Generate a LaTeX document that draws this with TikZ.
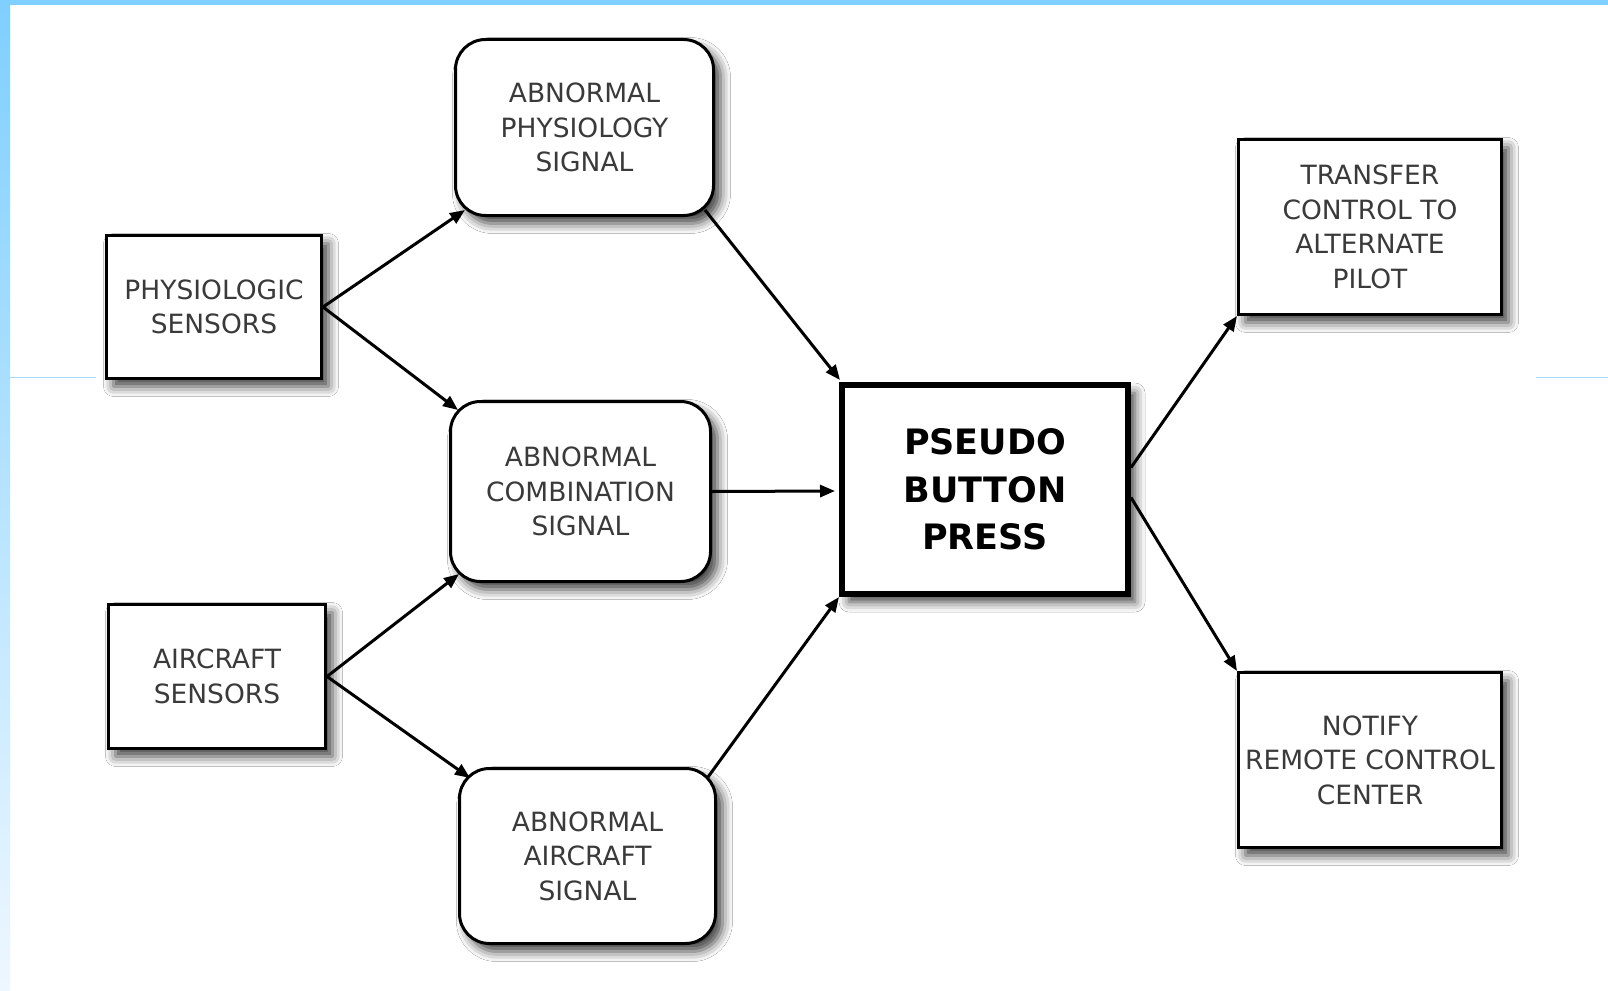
\documentclass[tikz,border=0pt]{standalone}
\usepackage{fontspec}
\setmainfont{DejaVu Sans}
\usetikzlibrary{arrows.meta,shadows.blur,calc}
\definecolor{barblue}{HTML}{7FCFFF}
\definecolor{barpale}{HTML}{EEF7FF}
\definecolor{lineblue}{HTML}{A6DBFF}
\definecolor{textgray}{HTML}{3A3A3A}
\begin{document}
\begin{tikzpicture}[x=1pt,y=-1pt,
  softshadow/.style={blur shadow={shadow xshift=7pt,shadow yshift=-8pt,shadow blur radius=10pt,shadow opacity=75}},
  plainbox/.style={draw=black,line width=3pt,fill=white,softshadow,align=center,text=textgray,
    font=\fontsize{26.5}{34.5}\selectfont,inner sep=0pt},
  roundbox/.style={plainbox,rounded corners=30pt},
  mainbox/.style={draw=black,line width=6pt,fill=white,softshadow,align=center,text=black,
    font=\fontsize{35}{47.5}\selectfont\bfseries,inner sep=0pt},
  arr/.style={-{Triangle[length=15pt,width=12pt]},line width=3pt,black}
]
% page frame
\useasboundingbox (0,0) rectangle (1608,990);
\fill[white] (0,0) rectangle (1608,990);
\fill[barblue] (0,0) rectangle (1608,5);
\shade[top color=barblue,bottom color=barpale] (0,0) rectangle (10,990);
\draw[lineblue,line width=1pt] (10,377) -- (96,377);
\draw[lineblue,line width=1pt] (1536,377) -- (1608,377);

% sensors
\node[plainbox,minimum width=215pt,minimum height=143pt] (phys) at (214,307) {PHYSIOLOGIC\\SENSORS};
\node[plainbox,minimum width=217pt,minimum height=144pt] (air) at (217,676.5) {AIRCRAFT\\SENSORS};

% signals
\node[roundbox,minimum width=258pt,minimum height=176pt] (aphys) at (584.5,127.5) {ABNORMAL\\PHYSIOLOGY\\SIGNAL};
\node[roundbox,minimum width=260pt,minimum height=180pt] (acomb) at (580.5,491.5) {ABNORMAL\\COMBINATION\\SIGNAL};
\node[roundbox,minimum width=256pt,minimum height=175pt] (aair) at (587.5,856) {ABNORMAL\\AIRCRAFT\\SIGNAL};

% central action
\node[mainbox,minimum width=286pt,minimum height=209pt] (pseudo) at (985,489.5) {PSEUDO\\BUTTON\\PRESS};

% outcomes
\node[plainbox,minimum width=263pt,minimum height=175pt] (transfer) at (1370,227) {TRANSFER\\CONTROL TO\\ALTERNATE\\PILOT};
\node[plainbox,minimum width=263pt,minimum height=175pt] (notify) at (1370,760) {NOTIFY\\REMOTE CONTROL\\CENTER};

% connectors
\draw[arr] (phys.east) -- ($(aphys.south west)+(11,-7)$);
\draw[arr] (phys.east) -- ($(acomb.north west)+(9,10)$);
\draw[arr] (air.east) -- ($(acomb.south west)+(10,-9)$);
\draw[arr] (air.east) -- ($(aair.north west)+(12,11)$);
\draw[arr] ($(aphys.south east)+(-10,-7)$) -- ($(pseudo.north west)+(1,-2)$);
\draw[arr] (acomb.east) -- ($(pseudo.west)+(-4,1.5)$);
\draw[arr] ($(aair.north east)+(-9,10)$) -- (pseudo.south west);
\draw[arr] ($(pseudo.east)+(0,-22)$) -- (transfer.south west);
\draw[arr] ($(pseudo.east)+(0,8)$) -- (notify.north west);
\end{tikzpicture}
\end{document}
